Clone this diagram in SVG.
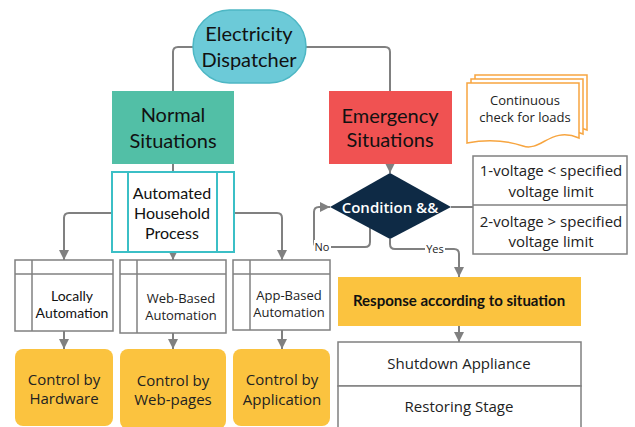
<svg xmlns="http://www.w3.org/2000/svg" width="635" height="427" viewBox="0 0 635 427">
<style>
.lato{font-family:Lato,"Liberation Sans",sans-serif;fill:#111;text-anchor:middle}
.os{font-family:"Open Sans","Liberation Sans",sans-serif;fill:#222;text-anchor:middle}
.gbox{fill:#fff;stroke:#808080;stroke-width:1.5}
.conn{fill:none;stroke:#808080;stroke-width:2}
.yel{fill:#fbc33f}
.doc{fill:#fff;stroke:#f7a540;stroke-width:1.5}
</style>
<defs>
<marker id="arr" markerUnits="userSpaceOnUse" markerWidth="12" markerHeight="12" refX="10" refY="5" orient="auto">
<path d="M0,0 L10,5 L0,10 Z" fill="#808080"/>
</marker>
</defs>
<rect width="635" height="427" fill="#fff"/>

<g id="connectors">
<path class="conn" d="M193,47 H178 Q173,47 173,52 V91"/>
<path class="conn" d="M306,47 H385 Q390,47 390,52 V91"/>
<path class="conn" d="M173,164 V172"/>
<path class="conn" d="M113,213 H69 Q64,213 64,218 V260" marker-end="url(#arr)"/>
<path class="conn" d="M173,252 V260" marker-end="url(#arr)"/>
<path class="conn" d="M234,213 H277 Q282,213 282,218 V260" marker-end="url(#arr)"/>
<path class="conn" d="M64,331 V349" marker-end="url(#arr)"/>
<path class="conn" d="M173,333 V349" marker-end="url(#arr)"/>
<path class="conn" d="M282,330 V349" marker-end="url(#arr)"/>
<path class="conn" d="M390,164 V173" marker-end="url(#arr)"/>
<path class="conn" d="M451,207 H473"/>
<path class="conn" d="M370,228 V242 Q370,247 365,247 H319 Q314,247 314,242 V212 Q314,207 319,207 H330" marker-end="url(#arr)"/>
<path class="conn" d="M390,239 V244 Q390,249 395,249 H454 Q459,249 459,254 V277" marker-end="url(#arr)"/>
<path class="conn" d="M459,326 V342" marker-end="url(#arr)"/>
<rect x="314" y="240" width="17" height="14" fill="#fff"/>
<text class="os" x="322" y="251" font-size="11">No</text>
<rect x="425" y="242" width="20" height="14" fill="#fff"/>
<text class="os" x="435" y="253" font-size="11">Yes</text>
</g>

<g id="dispatcher">
<rect x="193" y="10" width="113" height="73" rx="36.5" fill="#6ccad8" stroke="#4db7c4" stroke-width="1.5"/>
<text class="lato" x="249" y="41" font-size="20">Electricity</text>
<text class="lato" x="249" y="67" font-size="20">Dispatcher</text>
</g>

<g id="normal">
<rect x="112" y="91" width="122" height="73" fill="#52bfa6"/>
<text class="lato" x="173" y="122" font-size="20">Normal</text>
<text class="lato" x="173" y="148" font-size="20">Situations</text>
</g>

<g id="emergency">
<rect x="329" y="91" width="123" height="73" fill="#f05252"/>
<text class="lato" x="390" y="123" font-size="20">Emergency</text>
<text class="lato" x="390" y="147" font-size="20">Situations</text>
</g>

<g id="automated">
<rect x="112" y="172" width="122" height="80" fill="#fff" stroke="#3bbfc6" stroke-width="2"/>
<line x1="128" y1="172" x2="128" y2="252" stroke="#3bbfc6" stroke-width="2"/>
<line x1="217" y1="172" x2="217" y2="252" stroke="#3bbfc6" stroke-width="2"/>
<text class="lato" x="172" y="199" font-size="16">Automated</text>
<text class="lato" x="172" y="219" font-size="16">Household</text>
<text class="lato" x="172" y="239" font-size="16">Process</text>
</g>

<g id="locally">
<rect class="gbox" x="15" y="260" width="98" height="71"/>
<line x1="32" y1="260" x2="32" y2="331" stroke="#808080" stroke-width="1.5"/>
<line x1="15" y1="274" x2="113" y2="274" stroke="#808080" stroke-width="1.5"/>
<text class="lato" x="72" y="301" font-size="14">Locally</text>
<text class="lato" x="72" y="318" font-size="14">Automation</text>
</g>

<g id="webbased">
<rect class="gbox" x="120" y="260" width="106" height="73"/>
<line x1="137" y1="260" x2="137" y2="333" stroke="#808080" stroke-width="1.5"/>
<line x1="120" y1="274" x2="226" y2="274" stroke="#808080" stroke-width="1.5"/>
<text class="os" x="181" y="303" font-size="13">Web-Based</text>
<text class="os" x="181" y="320" font-size="13">Automation</text>
</g>

<g id="appbased">
<rect class="gbox" x="233" y="260" width="97" height="70"/>
<line x1="250" y1="260" x2="250" y2="330" stroke="#808080" stroke-width="1.5"/>
<line x1="233" y1="274" x2="330" y2="274" stroke="#808080" stroke-width="1.5"/>
<text class="os" x="289" y="300" font-size="13">App-Based</text>
<text class="os" x="289" y="317" font-size="13">Automation</text>
</g>

<g id="hardware">
<rect class="yel" x="15" y="349" width="98" height="77" rx="8"/>
<text class="os" x="64" y="385" font-size="15">Control by</text>
<text class="os" x="64" y="404" font-size="15">Hardware</text>
</g>

<g id="webpages">
<rect class="yel" x="120" y="349" width="106" height="80" rx="8"/>
<text class="os" x="173" y="386" font-size="15">Control by</text>
<text class="os" x="173" y="405" font-size="15">Web-pages</text>
</g>

<g id="application">
<rect class="yel" x="233" y="349" width="97" height="77" rx="8"/>
<text class="os" x="282" y="385" font-size="15">Control by</text>
<text class="os" x="282" y="405" font-size="15">Application</text>
</g>

<g id="loads">
<path class="doc" d="M475,75 H587 V130 C559,118 549,144 531,138 C513,132 495,131 475,135 Z"/>
<path class="doc" d="M471,79 H583 V134 C555,122 545,148 527,142 C509,136 491,135 471,139 Z"/>
<path class="doc" d="M467,83 H579 V138 C551,126 541,152 523,146 C505,140 487,139 467,143 Z"/>
<text class="os" x="525" y="105" font-size="13">Continuous</text>
<text class="os" x="525" y="122" font-size="13">check for loads</text>
</g>

<g id="condition">
<path d="M390,173 L451,207 L390,239 L330,207 Z" fill="#0e2a45"/>
<text class="os" x="390" y="213" font-size="15" font-weight="600" style="fill:#fff">Condition &amp;&amp;</text>
</g>

<g id="limits">
<rect class="gbox" x="473" y="156" width="154" height="98"/>
<line x1="473" y1="205" x2="627" y2="205" stroke="#808080" stroke-width="1.5"/>
<text class="os" x="551" y="176" font-size="15">1-voltage &lt; specified</text>
<text class="os" x="551" y="197" font-size="15">voltage limit</text>
<text class="os" x="551" y="227" font-size="15">2-voltage &gt; specified</text>
<text class="os" x="551" y="247" font-size="15">voltage limit</text>
</g>

<g id="response">
<rect class="yel" x="338" y="277" width="243" height="49"/>
<text class="lato" x="459" y="306" font-size="15" font-weight="bold">Response according to situation</text>
</g>

<g id="shutdown">
<rect class="gbox" x="338" y="342" width="243" height="44"/>
<text class="os" x="459" y="369" font-size="15">Shutdown Appliance</text>
</g>

<g id="restoring">
<rect class="gbox" x="338" y="386" width="243" height="50"/>
<text class="os" x="459" y="412" font-size="15">Restoring Stage</text>
</g>
</svg>
